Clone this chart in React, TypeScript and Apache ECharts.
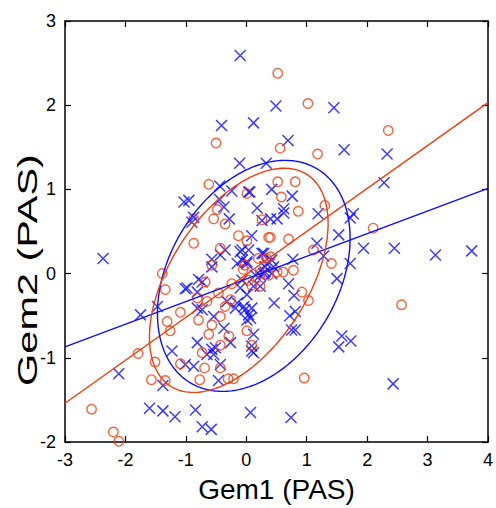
import React, { useEffect, useRef } from "react";
import * as echarts from "echarts";

const xTicks = [-3, -2, -1, 0, 1, 2, 3, 4];
const yTicks = [-2, -1, 0, 1, 2, 3];
const xTitle = "Gem1 (PAS)";
const yTitle = "Gem2 (PAS)";

const bluePoints: [number, number][] = [
  [-0.10, 2.59], [0.49, 1.99], [1.45, 1.97], [-0.41, 1.76], [0.12, 1.79], [0.69, 1.58],
  [1.62, 1.47], [2.33, 1.42], [-0.11, 1.31], [0.33, 1.31], [-0.44, 1.04], [-0.24, 0.98],
  [0.04, 0.97], [0.06, 0.97], [0.42, 1.00], [-1.03, 0.85], [-0.95, 0.87], [-0.44, 0.88],
  [-0.37, 0.79], [0.18, 0.78], [-0.87, 0.67], [-0.90, 0.61], [-0.28, 0.65], [0.26, 0.63],
  [0.40, 0.65], [0.51, 0.65], [2.28, 1.08], [0.76, 0.92], [0.62, 0.77], [0.62, 0.72],
  [1.19, 0.71], [1.77, 0.71], [1.72, 0.66], [1.53, 0.46], [1.17, 0.36], [1.28, 0.21],
  [1.94, 0.30], [2.45, 0.30], [3.13, 0.22], [3.73, 0.27], [0.77, 0.17], [0.42, 0.16],
  [0.45, 0.08], [1.72, 0.12], [1.50, -0.06], [0.70, -0.12], [0.79, -0.26], [0.46, -0.35],
  [0.81, -0.45], [0.72, -0.50], [0.75, -0.67], [0.81, -0.67], [1.58, -0.74], [1.53, -0.87],
  [1.73, -0.80], [2.43, -1.31], [0.74, -1.71], [-2.37, 0.18], [0.09, 0.45], [-0.35, 0.28],
  [-0.07, 0.28], [0.04, 0.28], [-0.57, 0.17], [-0.43, 0.22], [-0.15, 0.12], [-0.07, 0.16],
  [0.29, 0.24], [0.34, 0.12], [0.23, -0.02], [0.31, 0.02], [0.42, 0.0], [0.12, -0.15],
  [0.23, -0.15], [-0.79, -0.07], [-0.73, -0.10], [-1.01, -0.18], [-0.81, -0.22], [-1.47, -0.39],
  [-1.75, -0.49], [-0.81, -0.41], [-0.73, -0.43], [-0.54, -0.51], [-0.32, -0.33], [-0.15, -0.35],
  [-0.18, -0.41], [-0.02, -0.43], [0.09, -0.41], [0.04, -0.49], [0.07, -0.53], [-0.37, -0.65],
  [0.12, -0.72], [-0.81, -0.82], [-0.26, -0.82], [-0.57, -0.90], [-0.51, -0.88], [-0.65, -0.96],
  [-1.23, -0.92], [0.09, -0.86], [0.09, -0.92], [-1.01, -1.08], [-0.87, -1.10], [-0.43, -1.08],
  [-2.11, -1.19], [-0.46, -1.27], [-1.38, -1.33], [-1.60, -1.60], [-1.38, -1.63], [-1.18, -1.70],
  [-0.84, -1.62], [-0.73, -1.82], [-0.58, -1.85], [0.07, -1.65], [-0.04, -0.39], [0.01, -0.55],
  [0.12, -0.94], [-0.07, -0.08], [0.15, -0.02], [0.29, 0.0], [0.01, 0.14], [0.26, 0.24],
  [0.31, 0.08], [-0.10, 0.26], [0.01, 0.12], [-0.57, 0.08], [-0.98, -0.17], [-0.10, -0.17],
  [0.01, -0.25], [-0.54, -0.96],
];

const redPoints: [number, number][] = [
  [0.52, 2.38], [1.02, 2.02], [2.35, 1.70], [-0.50, 1.55], [0.56, 1.49], [1.18, 1.42],
  [-0.62, 1.06], [0.52, 1.09], [0.81, 1.09], [0.58, 0.91], [0.01, 0.95], [-0.48, 0.76],
  [-0.54, 0.65], [-0.35, 0.59], [-0.87, 0.65], [0.26, 0.64], [0.86, 0.74], [1.30, 0.81],
  [2.10, 0.54], [0.70, 0.41], [1.11, 0.28], [1.41, 0.12], [0.40, 0.43], [0.78, 0.04],
  [0.51, 0.02], [0.61, 0.02], [0.92, -0.22], [1.03, -0.32], [2.57, -0.37], [0.96, -1.24],
  [-0.13, 0.45], [0.01, 0.39], [0.37, 0.43], [-0.87, 0.36], [-0.43, 0.30], [-0.57, 0.10],
  [-0.02, 0.10], [-1.39, 0.0], [-1.34, -0.19], [-0.68, -0.10], [-0.81, -0.29], [-0.65, -0.33],
  [-0.24, -0.12], [-0.46, -0.23], [-0.35, -0.39], [0.04, -0.08], [0.09, -0.14], [0.23, -0.15],
  [0.23, 0.0], [0.37, -0.02], [0.34, 0.18], [0.20, 0.18], [-1.09, -0.46], [-1.31, -0.57],
  [-1.26, -0.68], [-0.79, -0.55], [-0.57, -0.61], [-0.62, -0.72], [-0.43, -0.51], [-0.29, -0.74],
  [0.01, -0.68], [-0.43, -0.85], [-0.73, -0.94], [0.09, -0.85], [-1.79, -0.95], [-1.51, -1.05],
  [-1.09, -1.07], [-0.69, -1.12], [-0.43, -1.12], [-1.57, -1.26], [-1.34, -1.27], [-0.77, -1.26],
  [-0.30, -1.25], [-0.21, -1.25], [-2.56, -1.61], [-2.20, -1.88], [-2.11, -1.99], [0.40, 0.20],
  [-0.26, -0.31], [-0.05, 0.05],
];

// regression lines: [slope, intercept]
const blueFit = [0.269, -0.064];
const redFit = [0.51, -0.01];

// ellipses: [cx, cy, Sxx, Syy, Sxy]
const blueEllipse = [0.124, -0.027, 2.541, 1.882, 0.713];
const redEllipse = [-0.124, -0.08, 2.185, 1.772, 1.0];

const BLUE = "#0c0cff";
const RED = "#f23c0c";

function fitLine(fit: number[]): [number, number][] {
  const x0 = xTicks[0];
  const x1 = xTicks[xTicks.length - 1];
  return [
    [x0, fit[0] * x0 + fit[1]],
    [x1, fit[0] * x1 + fit[1]],
  ];
}

function ellipse(e: number[]): [number, number][] {
  const [cx, cy, sxx, syy, sxy] = e;
  const l11 = Math.sqrt(sxx);
  const l21 = sxy / l11;
  const l22 = Math.sqrt(syy - l21 * l21);
  const pts: [number, number][] = [];
  const n = 240;
  for (let i = 0; i <= n; i++) {
    const t = (2 * Math.PI * i) / n;
    const u = Math.cos(t);
    const v = Math.sin(t);
    pts.push([cx + l11 * u, cy + l21 * u + l22 * v]);
  }
  return pts;
}

const FONT = "Liberation Sans, Arial, sans-serif";

export default function App() {
  const ref = useRef<HTMLDivElement>(null);
  useEffect(() => {
    if (!ref.current) return;
    const chart = echarts.init(ref.current, null, { renderer: "svg" });
    const axisLine = { show: true, onZero: false, lineStyle: { color: "#000", width: 1.5 } };
    const axisTick = { show: true, inside: true, length: 6, lineStyle: { color: "#000", width: 1.2 } };
    const xBase = {
      type: "value" as const,
      min: xTicks[0],
      max: xTicks[xTicks.length - 1],
      interval: 1,
      splitLine: { show: false },
      axisLine,
      axisTick,
    };
    const yBase = {
      type: "value" as const,
      min: yTicks[0],
      max: yTicks[yTicks.length - 1],
      interval: 1,
      splitLine: { show: false },
      axisLine,
      axisTick,
    };
    const lineSeries = (data: [number, number][], color: string) => ({
      type: "line",
      data,
      showSymbol: false,
      symbol: "none",
      smooth: false,
      clip: true,
      lineStyle: { color, width: 1.4 },
      silent: true,
      z: 3,
    });
    chart.setOption({
      animation: false,
      backgroundColor: "#fff",
      grid: { left: 65, right: 8, top: 21, bottom: 63 },
      graphic: [
        {
          type: "text",
          x: 27,
          y: 270,
          rotation: Math.PI / 2,
          scaleX: 1.48,
          style: {
            text: yTitle,
            font: `28px ${FONT}`,
            fill: "#000",
            align: "center",
            verticalAlign: "middle",
          },
        },
      ],
      xAxis: [
        {
          ...xBase,
          position: "bottom",
          axisLabel: { fontSize: 18, color: "#000", fontFamily: FONT, margin: 9 },
          name: xTitle,
          nameLocation: "middle",
          nameGap: 33,
          nameTextStyle: { fontSize: 28, color: "#000", fontFamily: FONT },
        },
        { ...xBase, position: "top", axisLabel: { show: false } },
      ],
      yAxis: [
        {
          ...yBase,
          position: "left",
          axisLabel: { fontSize: 18, color: "#000", fontFamily: FONT, margin: 9 },
        },
        { ...yBase, position: "right", axisLabel: { show: false } },
      ],
      series: [
        {
          type: "scatter",
          data: bluePoints,
          symbol: "path://M0,0L10,10M10,0L0,10",
          symbolSize: 11,
          itemStyle: { color: "none", borderColor: BLUE, borderWidth: 1.5 },
          z: 2,
        },
        {
          type: "scatter",
          data: redPoints,
          symbol: "circle",
          symbolSize: 9.5,
          itemStyle: { color: "none", borderColor: RED, borderWidth: 1.4 },
          z: 2,
        },
        lineSeries(fitLine(blueFit), BLUE),
        lineSeries(fitLine(redFit), RED),
        lineSeries(ellipse(blueEllipse), BLUE),
        lineSeries(ellipse(redEllipse), RED),
      ],
    });
    return () => chart.dispose();
  }, []);
  return (
    <div
      ref={ref}
      style={{ position: "fixed", left: 0, top: 0, width: 496, height: 508, background: "#fff" }}
    />
  );
}
